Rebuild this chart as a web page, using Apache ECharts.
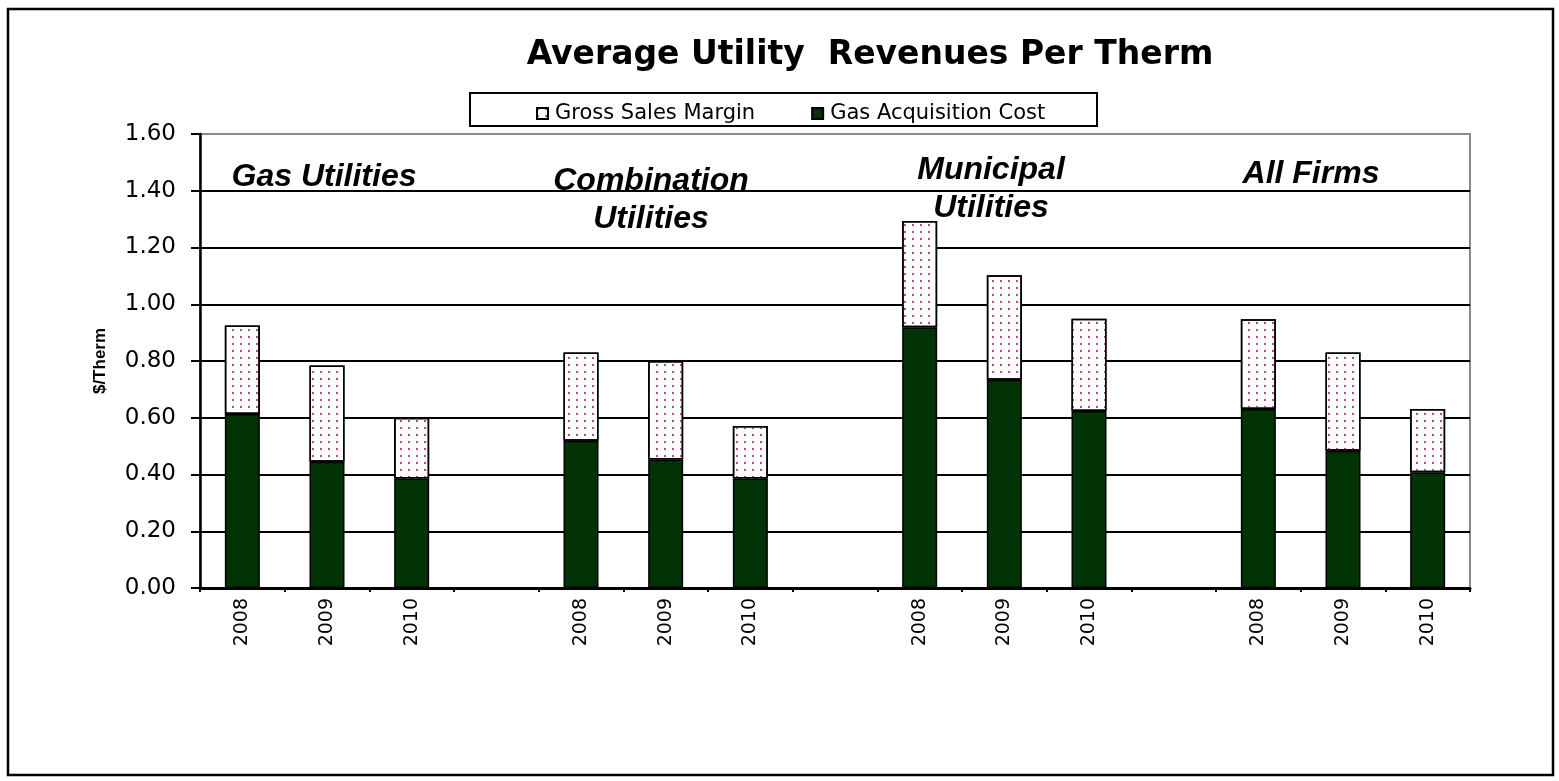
<!DOCTYPE html>
<html>
<head>
<meta charset="utf-8">
<script src="https://cdn.jsdelivr.net/npm/echarts@6/dist/echarts.min.js"></script>
<style>
  html, body { margin: 0; padding: 0; background: #fff; }
  #chart { width: 1559px; height: 781px; }
</style>
</head>
<body>
<div id="chart"></div>
<script>
  // 15 slots: 4 groups of 3 years with an empty slot between groups
  var years = ["2008", "2009", "2010", "", "2008", "2009", "2010", "", "2008", "2009", "2010", "", "2008", "2009", "2010"];
  var gasCost = [0.613, 0.445, 0.386, null, 0.519, 0.453, 0.386, null, 0.919, 0.734, 0.624, null, 0.631, 0.484, 0.408];
  var salesMargin = [0.312, 0.339, 0.214, null, 0.311, 0.347, 0.185, null, 0.374, 0.368, 0.325, null, 0.316, 0.346, 0.223];
  var yTicks = [0, 0.2, 0.4, 0.6, 0.8, 1.0, 1.2, 1.4, 1.6];
  var groupNames = ["Gas Utilities", "Combination\nUtilities", "Municipal\nUtilities", "All Firms"];

  var font = "'Liberation Sans', Arial, sans-serif";
  var wideFont = "'DejaVu Sans', sans-serif"; // the original text looks horizontally stretched
  var myChart = echarts.init(document.getElementById("chart"));

  // split lines black, the top one grey like the plot border
  var splitColors = yTicks.map(function (t, i) {
    return i === yTicks.length - 1 ? "#8a8a8a" : "#000";
  });

  var groupPos = [
    { x: 324, y: 177 },
    { x: 651, y: 200 },
    { x: 991, y: 189 },
    { x: 1311, y: 174 },
  ];

  var option = {
    animation: false,
    backgroundColor: "#fff",
    title: {
      text: "Average Utility  Revenues Per Therm",
      left: 865,
      textAlign: "center",
      top: 34,
      textStyle: {
        fontFamily: wideFont,
        fontSize: 33,
        fontWeight: "bold",
        color: "#000",
      },
    },
    legend: {
      data: ["Gross Sales Margin", "Gas Acquisition Cost"],
      left: 531,
      top: 98,
      icon: "rect",
      itemWidth: 11,
      itemHeight: 11,
      itemGap: 56,
      textStyle: { fontFamily: wideFont, fontSize: 21, color: "#000", padding: [0, 0, 0, 2] },
    },
    grid: {
      left: 200,
      right: 89,
      top: 134,
      bottom: 193,
      show: true,
      borderColor: "#8a8a8a",
      borderWidth: 2,
      backgroundColor: "transparent",
    },
    xAxis: {
      type: "category",
      data: years,
      axisLine: { lineStyle: { color: "#000", width: 3 } },
      axisTick: { show: true, interval: 0, length: 4, lineStyle: { color: "#000", width: 2 } },
      axisLabel: {
        interval: 0,
        rotate: 90,
        margin: 10,
        fontFamily: wideFont,
        fontSize: 19,
        color: "#000",
      },
      splitLine: { show: false },
    },
    yAxis: {
      type: "value",
      min: yTicks[0],
      max: yTicks[yTicks.length - 1],
      interval: 0.2,
      name: "$/Therm",
      nameLocation: "middle",
      nameRotate: 90,
      nameGap: 91,
      nameTextStyle: { fontFamily: font, fontSize: 17, fontWeight: "bold", color: "#000" },
      axisLine: { show: true, lineStyle: { color: "#000", width: 2.5 } },
      axisTick: { show: true, length: 9, lineStyle: { color: "#000", width: 2 } },
      axisLabel: {
        margin: 24,
        fontFamily: wideFont,
        fontSize: 23,
        color: "#000",
        formatter: function (v) { return v.toFixed(2); },
      },
      splitLine: { show: true, lineStyle: { color: splitColors, width: 2 } },
    },
    series: [
      {
        name: "Gas Acquisition Cost",
        type: "bar",
        stack: "total",
        barWidth: 35,
        data: gasCost,
        itemStyle: { color: "#023306", borderColor: "#000", borderWidth: 1.5 },
      },
      {
        name: "Gross Sales Margin",
        type: "bar",
        stack: "total",
        barWidth: 35,
        data: salesMargin,
        itemStyle: {
          color: "#fff",
          borderColor: "#000",
          borderWidth: 1.5,
          decal: {
            symbol: "rect",
            symbolSize: 1,
            color: "#b4507e",
            dashArrayX: [2, 6],
            dashArrayY: [2, 5],
          },
        },
      },
    ],
    graphic: [
      {
        type: "rect",
        shape: { x: 8, y: 9, width: 1545, height: 766 },
        style: { fill: "none", stroke: "#000", lineWidth: 2.5 },
        silent: true,
      },
      {
        type: "rect",
        shape: { x: 470, y: 93, width: 627, height: 33 },
        style: { fill: "none", stroke: "#000", lineWidth: 2 },
        silent: true,
      },
    ].concat(
      groupNames.map(function (name, i) {
        return {
          type: "text",
          x: groupPos[i].x,
          y: groupPos[i].y,
          style: {
            text: name,
            fill: "#000",
            font: "italic bold 32px " + font,
            align: "center",
            verticalAlign: "middle",
            lineHeight: 38,
          },
          silent: true,
        };
      })
    ),
  };

  myChart.setOption(option);
</script>
</body>
</html>
